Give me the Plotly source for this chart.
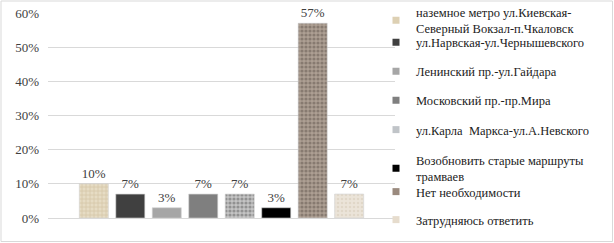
import plotly.graph_objects as go

names = [
    "наземное метро ул.Киевская-<br>Северный Вокзал-п.Чкаловск",
    "ул.Нарвская-ул.Чернышевского",
    "Ленинский пр.-ул.Гайдара",
    "Московский пр.-пр.Мира",
    "ул.Карла  Маркса-ул.А.Невского",
    "Возобновить старые маршруты<br>трамваев",
    "Нет необходимости",
    "Затрудняюсь ответить",
]
values = [0.10, 0.07, 0.03, 0.07, 0.07, 0.03, 0.57, 0.07]
labels = ["10%", "7%", "3%", "7%", "7%", "3%", "57%", "7%"]
y_ticks = [0, 0.1, 0.2, 0.3, 0.4, 0.5, 0.6]
y_ticktext = ["0%", "10%", "20%", "30%", "40%", "50%", "60%"]

# styles
bg_cols = ["#e6dcc4", "#404040", "#a6a6a6", "#7f7f7f", "#c4c4c4", "#000000", "#ad9f93", "#ebe4d9"]
fg_cols = ["#c4b089", None, None, None, "#5e5e5e", None, "#62564e", "#d6cab8"]
shapes_p = ["+", "", "", "", ".", "", ".", "."]
solid_p = [0.35, 0, 0, 0, 0.5, 0, 0.5, 0.35]
legend_marker_cols = ["#ddd0b3", "#404040", "#a6a6a6", "#7f7f7f", "#c0c4c8", "#000000", "#9a8a7e", "#e6dccd"]
legend_ypx = [20.5, 42.7, 71.7, 100.7, 130, 168.5, 192, 220]

SERIF = "Liberation Serif, Times New Roman, serif"
top, bottom, left, right = 13, 25, 48, 219
W, H = 614, 243
ph = H - top - bottom
pw = W - left - right

fig = go.Figure()
for i, (n, v, t) in enumerate(zip(names, values, labels)):
    pat = dict(shape=shapes_p[i])
    if shapes_p[i]:
        pat = dict(shape=shapes_p[i], fillmode="overlay", bgcolor=bg_cols[i],
                   fgcolor=fg_cols[i], size=4, solidity=solid_p[i])
    fig.add_trace(go.Bar(
        x=[0], y=[v], name=n, text=[t], textposition="outside",
        textfont=dict(family=SERIF, size=13, color="#404040"),
        cliponaxis=False,
        marker=dict(color=bg_cols[i], pattern=pat, line=dict(width=0.6, color="#d0d0d0")),
        showlegend=False, legendgroup=f"g{i}",
    ))
    lg = "legend" if i == 0 else f"legend{i+1}"
    fig.add_trace(go.Scatter(
        x=[None], y=[None], mode="markers", name=n,
        marker=dict(symbol="square", size=7, color=legend_marker_cols[i]),
        legend=lg, legendgroup=f"g{i}", showlegend=True,
    ))

layout_legends = {}
for i in range(8):
    key = "legend" if i == 0 else f"legend{i+1}"
    layout_legends[key] = dict(
        x=(396 - 20 - left) / pw, xanchor="left",
        y=(H - bottom - legend_ypx[i]) / ph, yanchor="middle",
        font=dict(family=SERIF, size=12.5, color="#222"),
        bgcolor="rgba(0,0,0,0)", itemsizing="trace", itemwidth=30,
    )

fig.update_layout(
    width=W, height=H,
    margin=dict(l=left, r=right, t=top, b=bottom, autoexpand=False),
    paper_bgcolor="white", plot_bgcolor="white",
    barmode="group", bargap=0.159, bargroupgap=0.205,
    xaxis=dict(range=[-0.5, 0.5], showticklabels=False, showgrid=False,
               zeroline=False, showline=False, ticks=""),
    yaxis=dict(range=[0, 0.6], tickvals=y_ticks, ticktext=y_ticktext,
               showgrid=True, gridcolor="#d9d9d9", gridwidth=1,
               zeroline=True, zerolinecolor="#d9d9d9", zerolinewidth=1,
               tickfont=dict(family=SERIF, size=13, color="#404040"),
               ticklabelstandoff=8, showline=False),
    **layout_legends,
    shapes=[dict(type="rect", xref="paper", yref="paper",
                 x0=-(left - 1) / pw, x1=1 + (right - 1.5) / pw,
                 y0=-(bottom - 1.5) / ph, y1=1 + (top - 1) / ph,
                 line=dict(color="#d9d9d9", width=1), layer="below")],
)

fig.write_html("out.html", post_script="document.body.style.margin='0';",
               config={"displayModeBar": False})
